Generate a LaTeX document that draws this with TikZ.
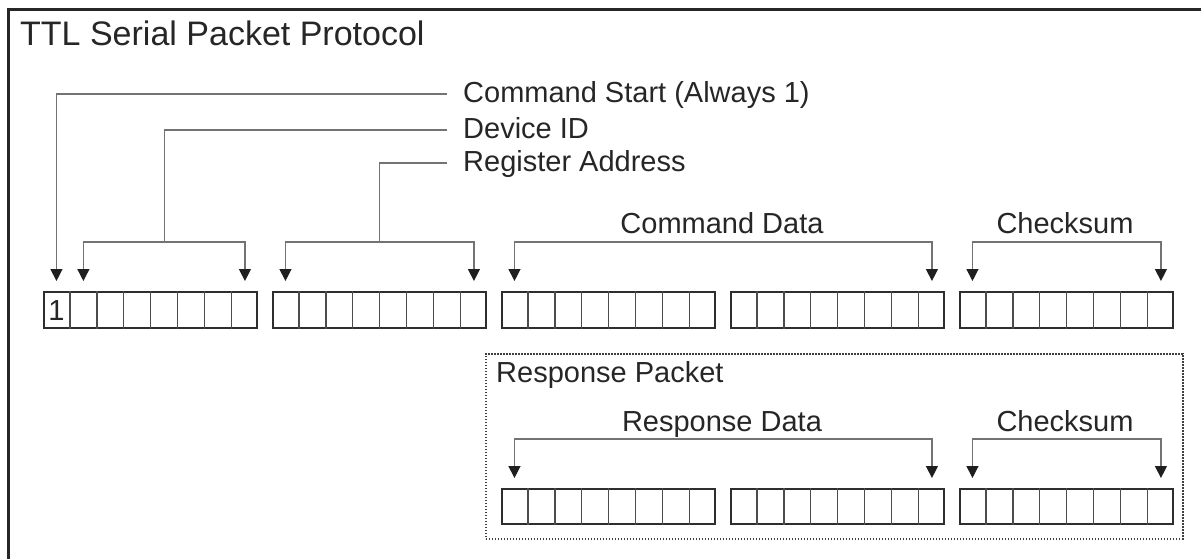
\documentclass[tikz,border=0pt]{standalone}
\usepackage{fontspec}
\setmainfont{Liberation Sans}
\usetikzlibrary{arrows.meta,calc}
\tikzset{
  frame/.style={line width=3pt,draw=black!85},
  bytebox/.style={draw=black!82,line width=2.4pt,minimum width=213pt,minimum height=36pt,inner sep=0pt,anchor=north west},
  cellline/.style={draw=black!70,line width=1.4pt},
  conn/.style={draw=black!55,line width=1.3pt},
  tip/.style={-{Triangle[width=12pt,length=12pt,color=black!88]}},
  bitips/.style={{Triangle[width=12pt,length=12pt,color=black!88]}-{Triangle[width=12pt,length=12pt,color=black!88]}},
  lbl/.style={font=\fontsize{29}{34}\selectfont,text=black!85,inner sep=0pt,text height=17pt,text depth=0pt,anchor=base west},
  clbl/.style={font=\fontsize{29}{34}\selectfont,text=black!85,inner sep=0pt,anchor=base},
  title/.style={font=\fontsize{34}{40}\selectfont,text=black!85,inner sep=0pt,anchor=base west},
  respbox/.style={draw=black!75,line width=1.6pt,dash pattern=on 1.6pt off 1.4pt,minimum width=697pt,minimum height=185pt,inner sep=0pt,anchor=north west},
}
\begin{document}
\begin{tikzpicture}[x=1pt,y=-1pt]
\useasboundingbox (0,0) rectangle (1201,559);
% outer frame
\draw[frame] (8,570) -- (8,10) -- (1215,10);
\node[title] (ttl) at (20,46) {TTL Serial Packet Protocol};

% command packet bytes
\foreach \n/\x in {c1/43,c2/272,c3/501,c4/730,c5/959}{
  \node[bytebox] (\n) at (\x,291) {};
  \foreach \i in {1,...,7}{
    \draw[cellline] ($(\n.north west)!\i/8!(\n.north east)$) -- ($(\n.south west)!\i/8!(\n.south east)$);
  }
}
\node[font=\fontsize{29}{34}\selectfont,text=black!85,inner sep=0pt] (one) at ($(c1.west)!0.5/8!(c1.east)$) {1};

% labels
\node[lbl] (cs) at (463,102.5) {Command Start (Always 1)};
\node[lbl] (dev) at (463,138.5) {Device ID};
\node[lbl] (reg) at (463,171.5) {Register Address};
\node[clbl] (cd) at (722,233) {Command Data};
\node[clbl] (ck) at (1065,233) {Checksum};

% tip coordinates (top row)
\foreach \n/\a/\b in {c1/1.5/7.5,c2/0.5/7.5,c3/0.5/7.5,c4/0.5/7.5,c5/0.5/7.5}{
  \coordinate (\n L) at ($(\n.north west)!\a/8!(\n.north east)+(0,-10)$);
  \coordinate (\n R) at ($(\n.north west)!\b/8!(\n.north east)+(0,-10)$);
}
\coordinate (csT) at ($(c1.north west)!0.5/8!(c1.north east)+(0,-10)$);
\coordinate (devM) at ($(c1L)!0.5!(c1R)+(0,-39)$);
\coordinate (regM) at ($(c2L)!0.5!(c2R)+(0,-39)$);

% command start
\draw[conn,tip] ([xshift=-16pt]cs.west) -| (csT);
% device id
\draw[conn,bitips] (c1L) |- (devM) -| (c1R);
\draw[conn] ([xshift=-16pt]dev.west) -| (devM);
% register address
\draw[conn,bitips] (c2L) |- (regM) -| (c2R);
\draw[conn] ([xshift=-16pt]reg.west) -| (regM);
% command data
\draw[conn,bitips] (c3L) -- ++(0,-39) -| (c4R);
% checksum
\draw[conn,bitips] (c5L) -- ++(0,-39) -| (c5R);

% response packet
\node[respbox] (resp) at (485,353) {};
\node[lbl] (rp) at (496,382) {Response Packet};
\foreach \n/\x in {r1/501,r2/730,r3/959}{
  \node[bytebox,minimum height=35pt] (\n) at (\x,488) {};
  \foreach \i in {1,...,7}{
    \draw[cellline] ($(\n.north west)!\i/8!(\n.north east)$) -- ($(\n.south west)!\i/8!(\n.south east)$);
  }
  \coordinate (\n L) at ($(\n.north west)!0.5/8!(\n.north east)+(0,-10)$);
  \coordinate (\n R) at ($(\n.north west)!7.5/8!(\n.north east)+(0,-10)$);
}
\node[clbl] (rd) at (722,431) {Response Data};
\node[clbl] (rck) at (1065,431) {Checksum};
\draw[conn,bitips] (r1L) -- ++(0,-39) -| (r2R);
\draw[conn,bitips] (r3L) -- ++(0,-39) -| (r3R);
\end{tikzpicture}
\end{document}
